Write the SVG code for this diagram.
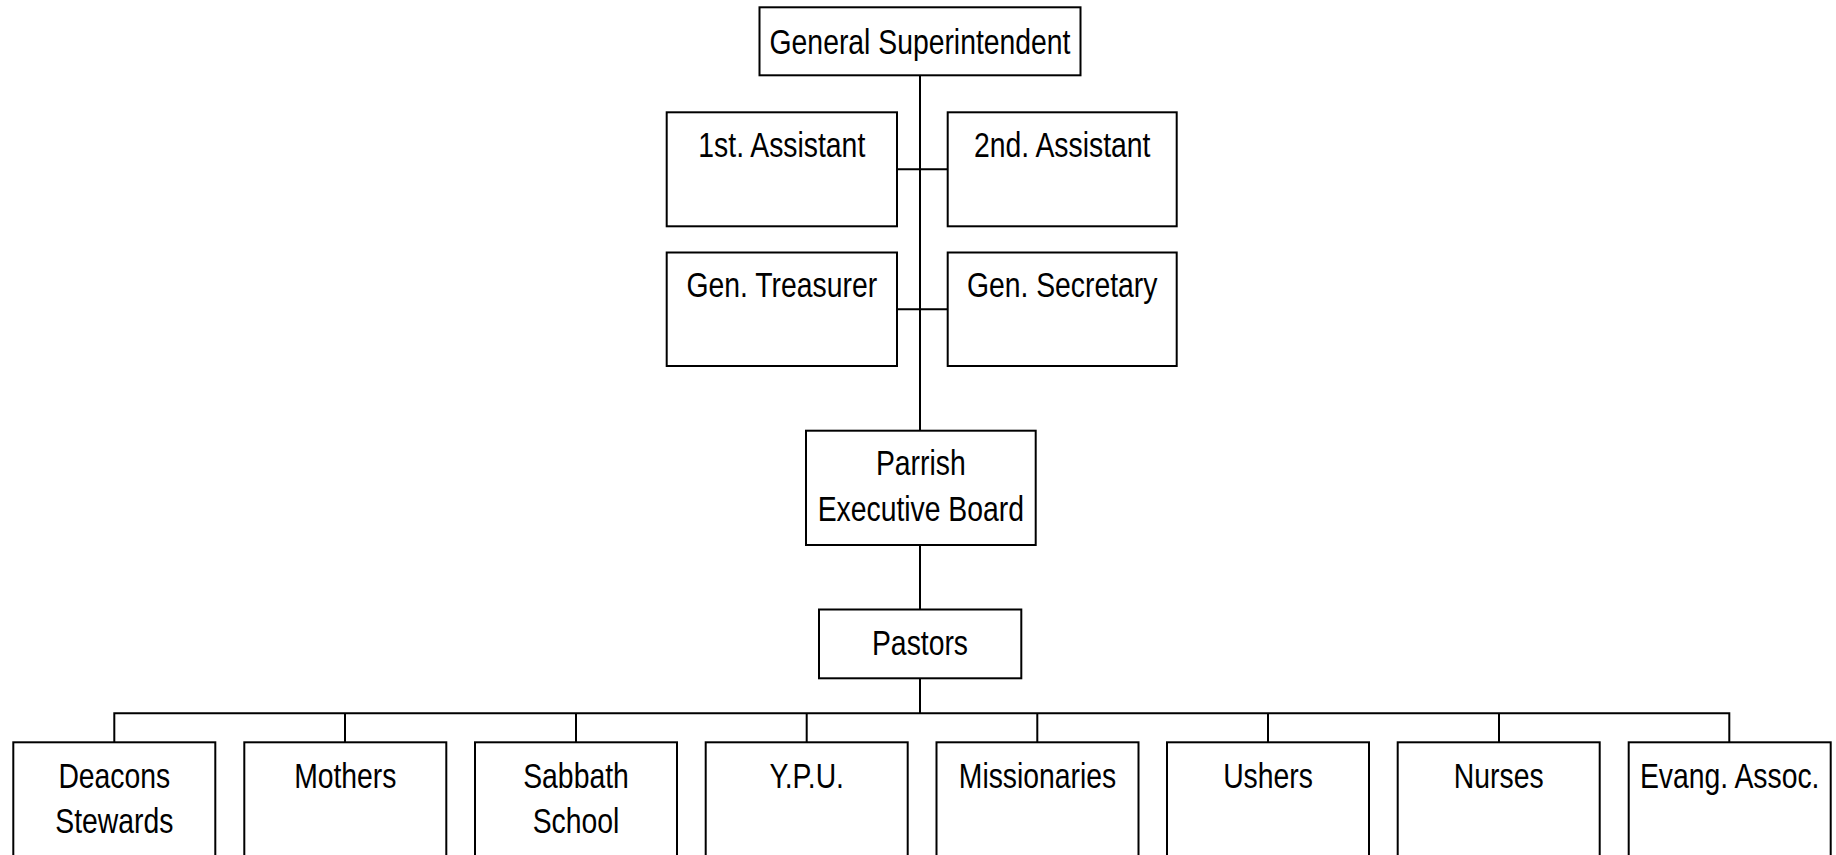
<svg xmlns="http://www.w3.org/2000/svg" width="1836" height="855" viewBox="0 0 1836 855">
<style>
  .box { fill: #ffffff; stroke: #000000; stroke-width: 2; }
  .ln { fill: none; stroke: #000000; stroke-width: 2; }
  .t { font-family: "Liberation Sans", Arial, sans-serif; font-size: 35px; fill: #000000; text-anchor: middle; }
</style>
<rect x="0" y="0" width="1836" height="855" fill="#ffffff"/>
<g id="connectors">
  <path class="ln" d="M920 75 V713"/>
  <path class="ln" d="M897 169.3 H947.7"/>
  <path class="ln" d="M897 309.3 H947.7"/>
  <path class="ln" d="M114.3 742 V713.3 H1729.3 V742"/>
  <path class="ln" d="M345 713.3 V742 M576 713.3 V742 M806.7 713.3 V742 M1037.3 713.3 V742 M1268 713.3 V742 M1499 713.3 V742"/>
</g>
<g id="node-general-superintendent">
  <rect class="box" x="759.5" y="7.3" width="321" height="68"/>
  <text class="t" transform="translate(920 53.5) scale(0.81 1)">General Superintendent</text>
</g>
<g id="node-1st-assistant">
  <rect class="box" x="666.7" y="112.3" width="230.3" height="114"/>
  <text class="t" transform="translate(781.8 157.3) scale(0.81 1)">1st. Assistant</text>
</g>
<g id="node-2nd-assistant">
  <rect class="box" x="947.7" y="112.3" width="229" height="114"/>
  <text class="t" transform="translate(1062.2 157.3) scale(0.81 1)">2nd. Assistant</text>
</g>
<g id="node-gen-treasurer">
  <rect class="box" x="666.7" y="252.5" width="230.3" height="113.5"/>
  <text class="t" transform="translate(781.8 296.7) scale(0.81 1)">Gen. Treasurer</text>
</g>
<g id="node-gen-secretary">
  <rect class="box" x="947.7" y="252.5" width="229" height="113.5"/>
  <text class="t" transform="translate(1062.2 296.7) scale(0.81 1)">Gen. Secretary</text>
</g>
<g id="node-parrish-executive-board">
  <rect class="box" x="806" y="430.7" width="229.7" height="114.3"/>
  <text class="t" transform="translate(920.8 475) scale(0.81 1)">Parrish</text>
  <text class="t" transform="translate(920.8 521) scale(0.81 1)">Executive Board</text>
</g>
<g id="node-pastors">
  <rect class="box" x="819" y="609.5" width="202.3" height="68.8"/>
  <text class="t" transform="translate(920 655) scale(0.81 1)">Pastors</text>
</g>
<g id="node-deacons-stewards">
  <rect class="box" x="13.3" y="742.3" width="202" height="130"/>
  <text class="t" transform="translate(114.3 787.7) scale(0.81 1)">Deacons</text>
  <text class="t" transform="translate(114.3 833.3) scale(0.81 1)">Stewards</text>
</g>
<g id="node-mothers">
  <rect class="box" x="244.3" y="742.3" width="202" height="130"/>
  <text class="t" transform="translate(345.3 787.7) scale(0.81 1)">Mothers</text>
</g>
<g id="node-sabbath-school">
  <rect class="box" x="475" y="742.3" width="202" height="130"/>
  <text class="t" transform="translate(576 787.7) scale(0.81 1)">Sabbath</text>
  <text class="t" transform="translate(576 833.3) scale(0.81 1)">School</text>
</g>
<g id="node-ypu">
  <rect class="box" x="705.7" y="742.3" width="202" height="130"/>
  <text class="t" transform="translate(806.7 787.7) scale(0.81 1)">Y.P.U.</text>
</g>
<g id="node-missionaries">
  <rect class="box" x="936.5" y="742.3" width="202" height="130"/>
  <text class="t" transform="translate(1037.5 787.7) scale(0.81 1)">Missionaries</text>
</g>
<g id="node-ushers">
  <rect class="box" x="1167" y="742.3" width="202" height="130"/>
  <text class="t" transform="translate(1268 787.7) scale(0.81 1)">Ushers</text>
</g>
<g id="node-nurses">
  <rect class="box" x="1397.7" y="742.3" width="202" height="130"/>
  <text class="t" transform="translate(1498.7 787.7) scale(0.81 1)">Nurses</text>
</g>
<g id="node-evang-assoc">
  <rect class="box" x="1628.7" y="742.3" width="202" height="130"/>
  <text class="t" transform="translate(1729.7 787.7) scale(0.81 1)">Evang. Assoc.</text>
</g>
</svg>
